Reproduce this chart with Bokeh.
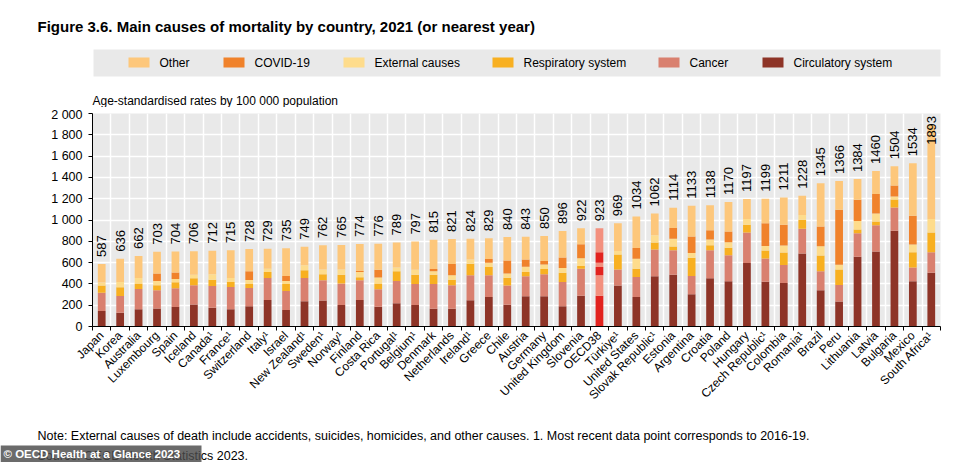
import numpy as np
from math import pi
from bokeh.plotting import figure
from bokeh.models import ColumnDataSource, Range1d, FixedTicker
from bokeh.core.properties import value
from bokeh.embed import file_html
from bokeh.resources import INLINE

# ---------------- data ----------------
countries = ["Japan", "Korea", "Australia", "Luxembourg", "Spain", "Iceland", "Canada¹", "France¹",
             "Switzerland", "Italy¹", "Israel", "New Zealand¹", "Sweden¹", "Norway¹", "Finland",
             "Costa Rica", "Portugal¹", "Belgium¹", "Denmark", "Netherlands", "Ireland¹", "Greece",
             "Chile", "Austria", "Germany", "United Kingdom", "Slovenia", "OECD38", "Türkiye¹",
             "United States", "Slovak Republic¹", "Estonia", "Argentina", "Croatia", "Poland",
             "Hungary", "Czech Republic¹", "Colombia", "Romania¹", "Brazil", "Peru", "Lithuania",
             "Latvia", "Bulgaria", "Mexico", "South Africa¹"]
circulatory = [145, 129, 163, 170, 182, 207, 176, 163, 191, 250, 154, 238, 244, 201, 250, 185, 219, 201,
               166, 166, 247, 278, 205, 285, 285, 191, 288, 288, 384, 278, 471, 487, 303, 452, 425, 596,
               421, 409, 686, 341, 235, 655, 704, 900, 425, 505]
cancer = [171, 158, 190, 170, 177, 180, 205, 209, 171, 206, 180, 218, 190, 202, 184, 165, 209, 199,
          234, 221, 234, 203, 181, 186, 205, 227, 255, 193, 152, 187, 252, 230, 171, 265, 245, 286,
          218, 168, 233, 177, 155, 220, 246, 218, 130, 193]
respiratory = [68, 82, 50, 47, 56, 65, 59, 46, 37, 56, 65, 71, 56, 84, 28, 53, 90, 87, 87, 53, 109, 78,
               71, 41, 50, 87, 25, 77, 141, 78, 65, 34, 171, 46, 69, 74, 75, 118, 84, 149, 146, 35, 37,
               75, 143, 184]
external = [28, 49, 53, 41, 31, 35, 50, 38, 38, 31, 29, 47, 46, 49, 49, 56, 37, 46, 31, 41, 40, 40, 41,
            49, 43, 44, 74, 41, 31, 93, 69, 72, 44, 53, 53, 53, 43, 65, 44, 87, 44, 81, 75, 28, 72, 127]
covid = [0, 0, 0, 69, 62, 0, 0, 0, 81, 0, 46, 0, 0, 0, 10, 75, 0, 0, 22, 105, 0, 34, 121, 69, 31, 99,
         131, 99, 0, 100, 0, 102, 155, 87, 99, 0, 212, 196, 0, 184, 516, 199, 181, 103, 270, 0]
other = [175, 218, 206, 206, 196, 219, 222, 259, 210, 186, 261, 175, 226, 229, 253, 242, 234, 264, 275,
         235, 194, 196, 221, 213, 236, 248, 149, 225, 261, 298, 205, 189, 289, 235, 279, 188, 230, 255,
         181, 407, 270, 194, 217, 180, 494, 884]
totals = [587, 636, 662, 703, 704, 706, 712, 715, 728, 729, 735, 749, 762, 765, 774, 776, 789, 797, 815,
          821, 824, 829, 840, 843, 850, 896, 922, 923, 969, 1034, 1062, 1114, 1133, 1138, 1170, 1197,
          1199, 1211, 1228, 1345, 1366, 1384, 1460, 1504, 1534, 1893]
y_ticks = [0, 200, 400, 600, 800, 1000, 1200, 1400, 1600, 1800, 2000]
y_tick_labels = ["0", "200", "400", "600", "800", "1 000", "1 200", "1 400", "1 600", "1 800", "2 000"]

series_names = ["Circulatory system", "Cancer", "Respiratory system", "External causes", "COVID-19", "Other"]
series_vals = [circulatory, cancer, respiratory, external, covid, other]
series_colors = ["#8E3427", "#D9806F", "#F8B021", "#FEDC8C", "#F0822B", "#FDC77B"]
oecd_colors = ["#E2231F", "#F3907E", "#E2231F", "#F3907E", "#E2231F", "#F3907E"]
highlight = "OECD38"

title_text = "Figure 3.6. Main causes of mortality by country, 2021 (or nearest year)"
subtitle_text = "Age-standardised rates by 100 000 population"
note_text = ("Note: External causes of death include accidents, suicides, homicides, and other causes. "
             "1. Most recent data point corresponds to 2016-19.")
source_text = "Source: OECD Health Statistics 2023."
watermark_text = "© OECD Health at a Glance 2023"

# ---------------- layout ----------------
W = 962
FONT = "Liberation Sans"
TOP_H, MAIN_H, BOT_H = 107, 311, 44   # page rows 0-107, 107-418, 418-462


def blank_fig(h):
    f = figure(width=W, height=h, output_backend="svg", toolbar_location=None,
               x_range=Range1d(0, W), y_range=Range1d(h, 0),
               x_axis_location=None, y_axis_location=None,
               min_border=0, min_border_left=0, min_border_right=0,
               min_border_top=0, min_border_bottom=0)
    f.grid.visible = False
    f.outline_line_color = None
    f.background_fill_color = "white"
    f.border_fill_color = "white"
    return f


# ---- header figure (page coordinates) ----
top = blank_fig(TOP_H)
top.text(x=[37], y=[26], text=[title_text], text_font=value(FONT), text_font_style="bold",
         text_font_size="15px", text_color="black", text_baseline="alphabetic")
top.quad(left=[93], right=[940], top=[49], bottom=[76], fill_color="#E9E9E9", line_color=None)
leg_order = [5, 4, 3, 2, 1, 0]
sw_x = [128, 223, 343, 492, 658, 762]
top.quad(left=sw_x, right=[s + 21 for s in sw_x], top=[57] * 6, bottom=[67] * 6,
         fill_color=[series_colors[k] for k in leg_order], line_color=None)
top.text(x=[s + 31 for s in sw_x], y=[62.5] * 6, text=[series_names[k] for k in leg_order],
         text_font=value(FONT), text_font_size="12px", text_color="black", text_baseline="middle")
top.text(x=[92], y=[100], text=[subtitle_text], text_font=value(FONT), text_font_size="12px",
         text_color="black", text_baseline="alphabetic")

# ---- main chart ----
n = len(countries)
xs = list(range(n))

p = figure(width=W, height=MAIN_H, output_backend="svg", toolbar_location=None,
           x_range=Range1d(-0.5, n - 0.5), y_range=Range1d(0, 2000),
           min_border_left=92, min_border_right=22, min_border_top=6, min_border_bottom=92)
p.outline_line_color = None
p.background_fill_color = "#E9E9E9"
p.border_fill_color = "white"

data = dict(x=xs, total=totals, label=[str(t) for t in totals])
bottom = np.zeros(n)
for k, vals in enumerate(series_vals):
    v = np.array(vals, dtype=float)
    data[f"b{k}"] = bottom.copy()
    data[f"t{k}"] = bottom + v
    data[f"c{k}"] = [oecd_colors[k] if c == highlight else series_colors[k] for c in countries]
    bottom = bottom + v
data["label_y"] = np.minimum(np.array(totals, dtype=float), 1640.0)
src = ColumnDataSource(data)

for k in range(len(series_vals)):
    p.vbar(x="x", width=0.42, bottom=f"b{k}", top=f"t{k}", fill_color=f"c{k}",
           line_color=None, source=src)

p.text(x="x", y="label_y", text="label", angle=pi / 2, text_align="left", text_baseline="middle",
       y_offset=-7, text_font=value(FONT), text_font_size="13px", text_color="black", source=src)

p.yaxis.ticker = FixedTicker(ticks=y_ticks)
p.yaxis.major_label_overrides = {t: l for t, l in zip(y_ticks, y_tick_labels)}
p.yaxis.major_label_text_font = FONT
p.yaxis.major_label_text_font_size = "12.5px"
p.yaxis.major_label_text_color = "black"
p.yaxis.axis_line_color = "black"
p.yaxis.major_tick_line_color = "black"
p.yaxis.major_tick_in = 0
p.yaxis.major_tick_out = 4
p.yaxis.minor_tick_line_color = None
p.yaxis.major_label_standoff = 6

bounds = [i - 0.5 for i in range(n + 1)]
p.xaxis.ticker = FixedTicker(ticks=xs, minor_ticks=bounds)
p.xaxis.major_label_overrides = {i: c for i, c in enumerate(countries)}
p.xaxis.major_label_orientation = pi / 4
p.xaxis.major_label_text_font = FONT
p.xaxis.major_label_text_font_size = "12px"
p.xaxis.major_label_text_color = "black"
p.xaxis.major_tick_line_color = None
p.xaxis.major_tick_in = 0
p.xaxis.major_tick_out = 0
p.xaxis.minor_tick_line_color = "black"
p.xaxis.minor_tick_in = 0
p.xaxis.minor_tick_out = 4
p.xaxis.axis_line_color = "black"
p.xaxis.major_label_standoff = 3

p.xgrid.ticker = FixedTicker(ticks=bounds)
p.xgrid.grid_line_color = "white"
p.xgrid.grid_line_width = 1.5
p.ygrid.grid_line_color = "white"
p.ygrid.grid_line_width = 1.5

# ---- footer figure (page coordinates minus 418 in y) ----
bot = blank_fig(BOT_H)
bot.text(x=[37], y=[17], text=[note_text], text_font=value(FONT), text_font_size="12.5px",
         text_color="black", text_baseline="alphabetic")
bot.text(x=[37], y=[37], text=[source_text], text_font=value(FONT), text_font_size="12.5px",
         text_color="black", text_baseline="alphabetic")
bot.quad(left=[0], right=[201], top=[27], bottom=[44], fill_color="#4A4A4A", fill_alpha=0.82,
         line_color=None)
bot.text(x=[3], y=[35.5], text=[watermark_text], text_font=value(FONT), text_font_style="bold",
         text_font_size="11.5px", text_color="white", text_baseline="middle")

open("out.html", "w").write(file_html([top, p, bot], INLINE))
